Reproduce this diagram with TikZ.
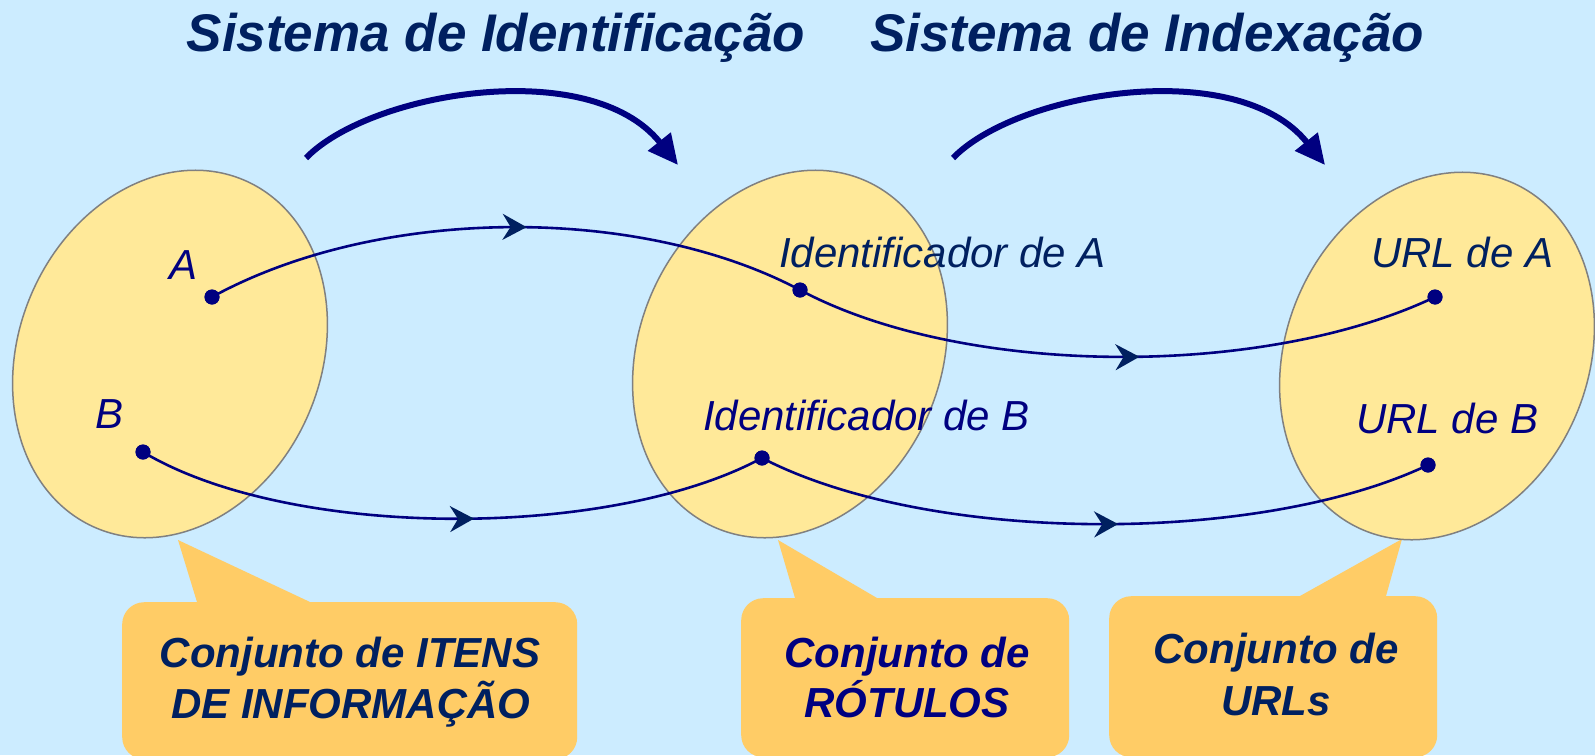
\documentclass[tikz,border=0pt]{standalone}
\usepackage{fontspec}
\setmainfont{Liberation Sans}
\usetikzlibrary{shapes.geometric,arrows.meta,decorations.markings}
\definecolor{bgc}{HTML}{CCECFF}
\definecolor{ellfill}{HTML}{FFE999}
\definecolor{ellline}{HTML}{808080}
\definecolor{bubc}{HTML}{FFCC66}
\definecolor{navy}{HTML}{000080}
\definecolor{darkc}{HTML}{002060}
\begin{document}
\begin{tikzpicture}[x=1pt,y=-1pt,
  setell/.style={ellipse, draw=ellline, line width=1.5pt, fill=ellfill,
    minimum width=302pt, minimum height=378pt, inner sep=0pt, rotate=-23},
  dotn/.style={circle, fill=navy, inner sep=0pt, minimum size=15pt},
  mapcurve/.style={draw=navy, line width=2.6pt, postaction={decorate},
    decoration={markings, mark=at position 0.535 with
      {\arrow[darkc]{Stealth[length=24pt,width=26pt,inset=8pt]}}}},
  bigarrow/.style={draw=navy, line width=6pt, -{Triangle[length=30pt,width=28pt]}},
  lbl/.style={inner sep=0pt, anchor=base west, font=\fontsize{42}{50}\selectfont\itshape},
  titlet/.style={inner sep=0pt, anchor=base, text=darkc,
    font=\fontsize{53}{60}\selectfont\bfseries\itshape},
  bbox/.style={fill=bubc, rounded corners=22pt, inner sep=0pt, anchor=north west},
  btext/.style={inner sep=0pt, anchor=base, font=\fontsize{42}{50}\selectfont\bfseries\itshape}
]
\fill[bgc] (0,0) rectangle (1595,755);
\useasboundingbox (0,0) rectangle (1595,755);

% bubbles
\node[bbox, minimum width=455pt, minimum height=157pt] (K1) at (122,602) {};
\node[bbox, minimum width=328pt, minimum height=159pt] (K2) at (741,598) {};
\node[bbox, minimum width=328pt, minimum height=161pt] (K3) at (1109,596) {};
\coordinate (p1) at (178,540);
\coordinate (p2) at (778,540);
\coordinate (p3) at (1402,539);
\fill[bubc] (p1) -- (197,602) -- (197,608) -- (310,608) -- (310,602) -- cycle;
\fill[bubc] (p2) -- (795,598) -- (795,604) -- (877,604) -- (877,598) -- cycle;
\fill[bubc] (p3) -- (1386,596) -- (1386,602) -- (1300,602) -- (1300,596) -- cycle;

% sets
\node[setell] (E1) at (170,354) {};
\node[setell] (E2) at (790,354) {};
\node[setell] (E3) at (1437,356) {};

% dots
\node[dotn] (dA) at (212,297) {};
\node[dotn] (dB) at (143,452) {};
\node[dotn] (dIA) at (800,290) {};
\node[dotn] (dIB) at (762,458) {};
\node[dotn] (dUA) at (1435,297) {};
\node[dotn] (dUB) at (1428,465) {};

% mappings
\draw[mapcurve] (dA.center) .. controls (380,205) and (640,205) .. (dIA.center);
\draw[mapcurve] (dIA.center) .. controls (965,378) and (1265,378) .. (dUA.center);
\draw[mapcurve] (dB.center) .. controls (290,540) and (610,540) .. (dIB.center);
\draw[mapcurve] (dIB.center) .. controls (930,545) and (1260,545) .. (dUB.center);
\foreach \d in {dA,dB,dIA,dIB,dUA,dUB} {\fill[navy] (\d) circle (7.5pt);}

% labels
\node[lbl, text=navy] (lA) at (169,279) {A};
\node[lbl, text=navy] (lB) at (95,428) {B};
\node[lbl, text=darkc] (lIA) at (779,267) {Identificador de A};
\node[lbl, text=navy] (lIB) at (703,430) {Identificador de B};
\node[lbl, text=darkc] (lUA) at (1371,267) {URL de A};
\node[lbl, text=navy] (lUB) at (1356,433) {URL de B};

% titles
\node[titlet] (T1) at (496,51) {Sistema de Identificação};
\node[titlet] (T2) at (1147,51) {Sistema de Indexação};

% big arrows
\coordinate (s1) at (306,158);
\coordinate (e1) at (678,165);
\coordinate (s2) at (953,158);
\coordinate (e2) at (1325,165);
\draw[bigarrow] (s1) .. controls (370,92) and (590,55) .. (e1);
\draw[bigarrow] (s2) .. controls (1017,92) and (1237,55) .. (e2);

% bubble texts
\node[btext, text=darkc] (b1a) at (350,667) {Conjunto de ITENS};
\node[btext, text=darkc] (b1b) at (351,718) {DE INFORMAÇÃO};
\node[btext, text=navy] (b2a) at (907,667) {Conjunto de};
\node[btext, text=navy] (b2b) at (907,717) {RÓTULOS};
\node[btext, text=darkc] (b3a) at (1276,663) {Conjunto de};
\node[btext, text=darkc] (b3b) at (1276,715) {URLs};
\end{tikzpicture}
\end{document}
